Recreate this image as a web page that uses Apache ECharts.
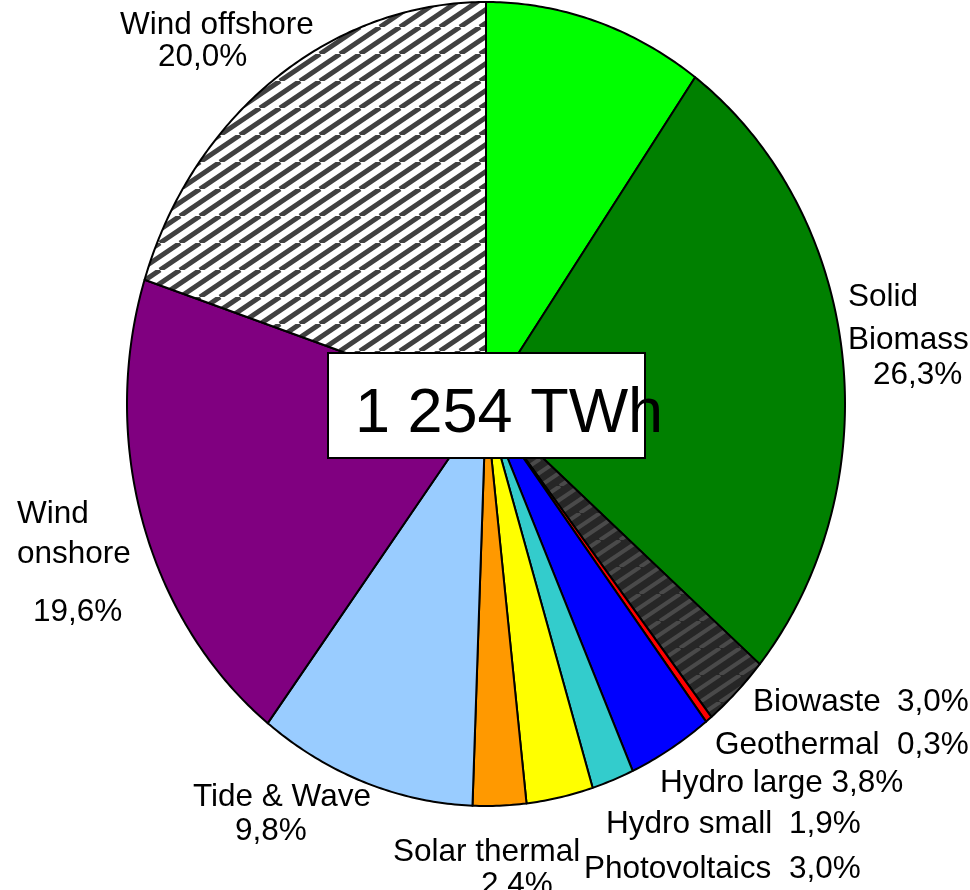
<!DOCTYPE html>
<html>
<head>
<meta charset="utf-8">
<script src="https://cdn.jsdelivr.net/npm/echarts@6/dist/echarts.min.js"></script>
<style>
  html, body { margin: 0; padding: 0; background: #fff; }
  #chart { width: 970px; height: 890px; }
</style>
</head>
<body>
<div id="chart"></div>
<script>
// slices, clockwise from 12 o'clock
const names = ["Biogas", "Solid Biomass", "Biowaste", "Geothermal", "Hydro large", "Hydro small",
  "Photovoltaics", "Solar thermal", "Tide & Wave", "Wind onshore", "Wind offshore"];
const values = [9.9, 26.3, 3.0, 0.3, 3.8, 1.9, 3.0, 2.4, 9.8, 19.6, 20.0];
const colors = ["#00ff00", "#008000", "hatchDark", "#ff0000", "#0000ff", "#33cccc",
  "#ffff00", "#ff9900", "#99ccff", "#800080", "hatchLight"];
const totalLabel = "1 254 TWh";

const cx = 486, cy = 404, rx = 359, ry = 402;
const font = '31.5px "Liberation Sans", Arial, sans-serif';

// diagonal stripes rising to the right, two per tile
function hatch(bg, fg, width) {
  const w = 40, h = 27;
  const c = document.createElement("canvas");
  c.width = w; c.height = h;
  const ctx = c.getContext("2d");
  ctx.fillStyle = bg;
  ctx.fillRect(0, 0, w, h);
  ctx.strokeStyle = fg;
  ctx.lineWidth = width;
  for (const k of [-40, -20, 0, 20, 40]) {
    ctx.beginPath();
    ctx.moveTo(k, h);
    ctx.lineTo(k + w, 0);
    ctx.stroke();
  }
  return { image: c, repeat: "repeat" };
}
const patterns = {
  hatchLight: hatch("#ffffff", "#404040", 5),
  hatchDark: hatch("#262626", "#4a4a4a", 4)
};
const fills = colors.map(c => patterns[c] || c);

const pct = i => values[i].toFixed(1).replace(".", ",") + "%";

function renderItem(params, api) {
  const i = params.dataIndex;
  const sum = values.reduce((a, b) => a + b, 0);
  let before = 0;
  for (let k = 0; k < i; k++) before += values[k];
  const a0 = before / sum * 2 * Math.PI;
  const a1 = (before + api.value(0)) / sum * 2 * Math.PI;
  const pts = [[cx, cy]];
  const n = Math.max(2, Math.ceil((a1 - a0) / 0.01));
  for (let k = 0; k <= n; k++) {
    const a = a0 + (a1 - a0) * k / n;
    pts.push([cx + rx * Math.sin(a), cy - ry * Math.cos(a)]);
  }
  return {
    type: "polygon",
    shape: { points: pts },
    style: { fill: fills[i], stroke: "#000", lineWidth: 2, lineJoin: "round" }
  };
}

// label lines: text, left x, baseline y
const labelLines = [
  [names[10], 120, 33], [pct(10), 158, 65],
  [names[1].split(" ")[0], 848, 305], [names[1].split(" ")[1], 848, 348], [pct(1), 873, 383],
  [names[9].split(" ")[0], 17, 522], [names[9].split(" ")[1], 17, 562], [pct(9), 33, 620],
  [names[8], 193, 805], [pct(8), 235, 839],
  [names[7], 393, 860], [pct(7), 481, 893],
  [names[2], 753, 710], [pct(2), 897, 710],
  [names[3], 715, 753], [pct(3), 897, 753],
  [names[4] + " " + pct(4), 660, 791],
  [names[5], 606, 832], [pct(5), 789, 832],
  [names[6], 584, 877], [pct(6), 789, 877]
];

const graphics = labelLines.map(([t, x, y]) => ({
  type: "text", z: 50,
  style: { text: t, x: x, y: y - 8, font: font, fill: "#000", textAlign: "left", textVerticalAlign: "middle" }
}));
graphics.push({
  type: "rect", z: 100,
  shape: { x: 328, y: 353, width: 317, height: 105 },
  style: { fill: "#fff", stroke: "#000", lineWidth: 2 }
});
graphics.push({
  type: "text", z: 101,
  style: { text: totalLabel, x: 355, y: 415, font: '63px "Liberation Sans", Arial, sans-serif',
    fill: "#000", textAlign: "left", textVerticalAlign: "middle" }
});

const chart = echarts.init(document.getElementById("chart"));
chart.setOption({
  animation: false,
  graphic: { elements: graphics },
  series: [{
    type: "custom",
    coordinateSystem: "none",
    renderItem: renderItem,
    data: values.map(v => [v])
  }]
});
</script>
</body>
</html>
